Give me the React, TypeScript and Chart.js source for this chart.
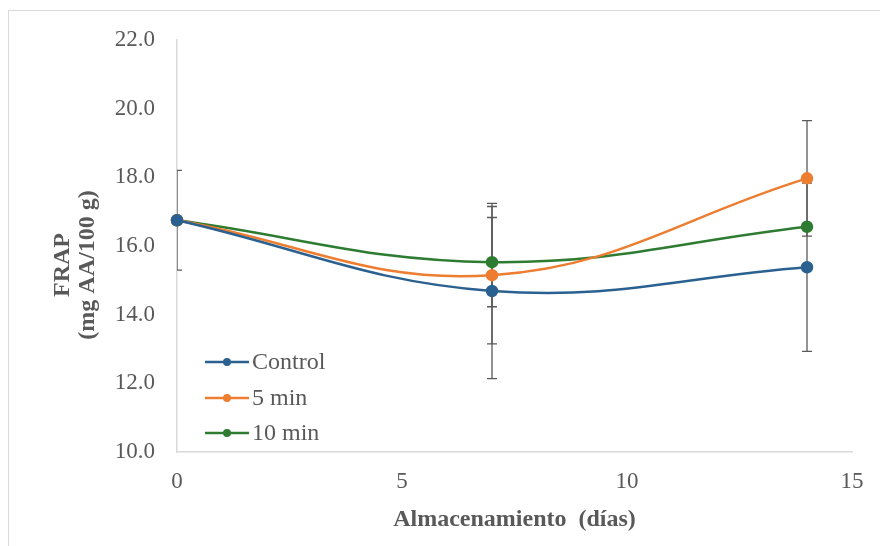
import React, { useEffect, useRef } from "react";
import { Chart, registerables } from "chart.js";

Chart.register(...registerables);

const days = [0, 7, 14];
const seriesNames = ["Control", "5 min", "10 min"];
const controlValues = [16.75, 14.69, 15.38];
const fiveMinValues = [16.75, 15.15, 17.97];
const tenMinValues = [16.75, 15.53, 16.56];
const controlErrors = [1.45, 2.55, 2.45];
const fiveMinErrors = [0, 2.0, 1.68];
const tenMinErrors = [0, 1.3, 0];
const seriesColors = ["#2B6190", "#ED7D31", "#2E7B32"];
const xTitle = "Almacenamiento  (días)";
const yTitleLines = ["FRAP", "(mg AA/100 g)"];

const FONT = "'Liberation Serif', 'Times New Roman', serif";

const errorBarPlugin = {
  id: "errorBars",
  beforeDatasetsDraw(chart: any) {
    const { ctx, chartArea, scales } = chart;
    ctx.save();
    ctx.beginPath();
    ctx.rect(chartArea.left, 0, chart.width - chartArea.left, chart.height);
    ctx.clip();
    ctx.strokeStyle = "#5a5a5a";
    ctx.lineWidth = 1.3;
    chart.data.datasets.forEach((ds: any) => {
      ds.data.forEach((pt: any, i: number) => {
        const e = ds.errors[i];
        if (!e) return;
        const x = scales.x.getPixelForValue(pt.x);
        const yt = scales.y.getPixelForValue(pt.y + e);
        const yb = scales.y.getPixelForValue(pt.y - e);
        ctx.beginPath();
        ctx.moveTo(x, yt);
        ctx.lineTo(x, yb);
        ctx.moveTo(x - 5, yt);
        ctx.lineTo(x + 5, yt);
        ctx.moveTo(x - 5, yb);
        ctx.lineTo(x + 5, yb);
        ctx.stroke();
      });
    });
    ctx.restore();
  },
};

const decorPlugin = {
  id: "decor",
  afterDraw(chart: any) {
    const { ctx, chartArea } = chart;
    ctx.save();
    // legend
    const rowY = [362, 398, 433];
    chart.data.datasets.forEach((ds: any, i: number) => {
      const y = rowY[i];
      ctx.strokeStyle = ds.borderColor;
      ctx.lineWidth = 2.5;
      ctx.beginPath();
      ctx.moveTo(205, y);
      ctx.lineTo(249, y);
      ctx.stroke();
      ctx.fillStyle = ds.borderColor;
      ctx.beginPath();
      ctx.arc(227, y, 4, 0, Math.PI * 2);
      ctx.fill();
      ctx.fillStyle = "#595959";
      ctx.font = `24px ${FONT}`;
      ctx.textAlign = "left";
      ctx.textBaseline = "middle";
      ctx.fillText(ds.label, 252, y + 1);
    });
    // axis titles
    ctx.fillStyle = "#595959";
    ctx.font = `bold 24px ${FONT}`;
    ctx.textAlign = "center";
    ctx.textBaseline = "middle";
    ctx.fillText(xTitle, (chartArea.left + chartArea.right) / 2, 520);
    ctx.save();
    ctx.translate(63, 265);
    ctx.rotate(-Math.PI / 2);
    ctx.fillText(yTitleLines[0], 0, 0);
    ctx.fillText(yTitleLines[1], 0, 25);
    ctx.restore();
    ctx.restore();
  },
};

export default function App() {
  const ref = useRef<HTMLCanvasElement | null>(null);
  useEffect(() => {
    document.body.style.margin = "0";
    const valueSets = [controlValues, fiveMinValues, tenMinValues];
    const errorSets = [controlErrors, fiveMinErrors, tenMinErrors];
    const chart = new Chart(ref.current as HTMLCanvasElement, {
      type: "line",
      data: {
        datasets: seriesNames.map((name, i) => ({
          label: name,
          data: days.map((d, j) => ({ x: d, y: valueSets[i][j] })),
          errors: errorSets[i],
          borderColor: seriesColors[i],
          backgroundColor: seriesColors[i],
          pointBackgroundColor: seriesColors[i],
          pointBorderColor: seriesColors[i],
          borderWidth: 2.5,
          pointRadius: 5,
          tension: 0.4,
          clip: false,
        })) as any,
      },
      options: {
        animation: false,
        responsive: false,
        maintainAspectRatio: false,
        layout: { padding: { left: 0, top: 40, right: 28, bottom: 0 } },
        plugins: { legend: { display: false }, tooltip: { enabled: false } },
        scales: {
          x: {
            type: "linear",
            min: 0,
            max: 15,
            afterFit: (s: any) => { s.height = 94; },
            grid: { display: false, drawTicks: false },
            border: { display: true, color: "#d9d9d9", width: 1.5 },
            ticks: {
              stepSize: 5,
              padding: 16,
              color: "#595959",
              font: { family: FONT, size: 23 },
            },
          },
          y: {
            min: 10,
            max: 22,
            afterFit: (s: any) => { s.width = 177; },
            grid: { display: false, drawTicks: false },
            border: { display: true, color: "#d9d9d9", width: 1.5 },
            ticks: {
              stepSize: 2,
              padding: 22,
              color: "#595959",
              font: { family: FONT, size: 23 },
              callback: (v: any) => Number(v).toFixed(1),
            },
          },
        },
      },
      plugins: [errorBarPlugin, decorPlugin],
    });
    return () => chart.destroy();
  }, []);
  return (
    <div style={{ position: "relative", width: 880, height: 546, overflow: "hidden", background: "#fff" }}>
      <div
        style={{
          position: "absolute",
          left: 8,
          top: 10,
          width: 900,
          height: 600,
          border: "1px solid #d9d9d9",
        }}
      />
      <canvas ref={ref} width={880} height={546} style={{ position: "absolute", left: 0, top: 0 }} />
    </div>
  );
}
